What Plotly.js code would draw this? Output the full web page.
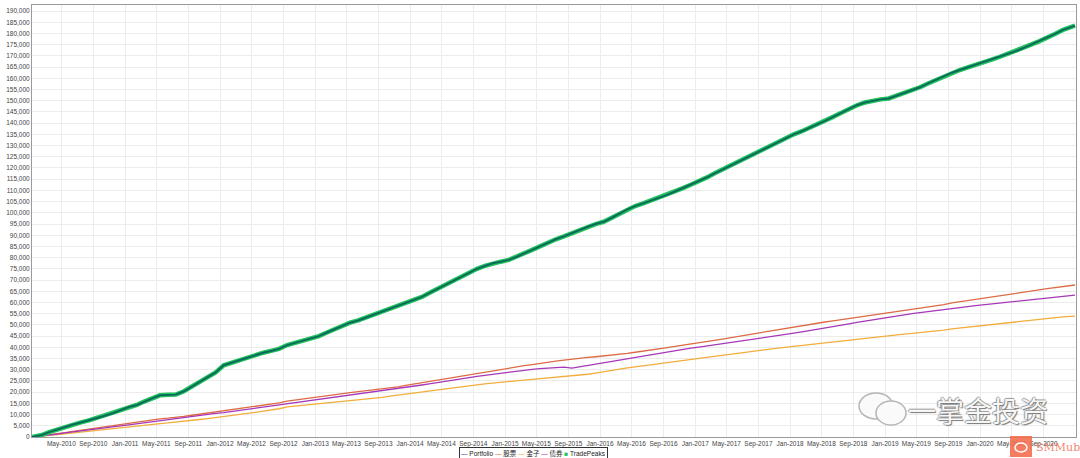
<!DOCTYPE html>
<html>
<head>
<meta charset="utf-8">
<script src="https://cdn.plot.ly/plotly-3.0.1.min.js"></script>
<style>html,body{margin:0;padding:0;background:#fff;}#chart{width:1080px;height:458px;}</style>
</head>
<body>
<div id="chart"></div>
<script>
// ---- Data (monthly from Jan-2010 to Dec-2020) ----
const seriesNames = ["Portfolio", "股票", "金子", "债券", "TradePeaks"];

const portfolio = [
  0, 900, 2200, 3400, 4500, 5600, 6500, 7400, 8600, 9500, 10600, 12000,
  13400, 14300, 15800, 17200, 18600, 18800, 18900, 20400, 22500, 24500, 26500, 28800,
  32000, 33200, 34000, 35500, 36500, 37600, 38400, 39300, 41000, 42000, 42800, 43800,
  45000, 46600, 48000, 49500, 51000, 52000, 53300, 54500, 56000, 57000, 58400, 59600,
  61000, 62500, 64200, 66000, 68000, 69800, 71500, 73200, 75000, 76300, 77500, 78200,
  79000, 80400, 82000, 83500, 85000, 86800, 88200, 89500, 91000, 92300, 93800, 95000,
  96000, 97800, 99700, 101500, 103000, 104200, 105500, 106700, 108000, 109500, 111000, 112500,
  114000, 115800, 117500, 119300, 121000, 122800, 124500, 126300, 128000, 129800, 131500, 133300,
  135000, 136400, 137800, 139400, 141000, 142800, 144500, 146300, 148000, 149200, 150000, 150600,
  151000, 152200, 153400, 154700, 156000, 157700, 159300, 161000, 162500, 163700, 164900, 165900,
  167000, 168300, 169500, 170800, 172000, 173500, 175000, 176500, 178000, 179800, 181600, 183500
];

const stocks = [
  0, 500, 1000, 1500, 2000, 2500, 3000, 3500, 4000, 4600, 5100, 5700,
  6200, 6700, 7100, 7600, 8100, 8400, 8700, 9200, 9700, 10200, 10600, 11000,
  11500, 12100, 12600, 13200, 13700, 14100, 14600, 15200, 16000, 16500, 17000, 17500,
  18000, 18500, 19000, 19400, 19800, 20200, 20600, 21000, 21400, 21900, 22400, 23000,
  23600, 24200, 24800, 25400, 26000, 26700, 27300, 27900, 28500, 29100, 29700, 30300,
  30900, 31300, 31800, 32300, 32700, 33200, 33800, 34300, 34800, 35200, 35500, 35800,
  36100, 36400, 36800, 37300, 37800, 38400, 38900, 39400, 39900, 40400, 40900, 41400,
  41900, 42500, 43100, 43700, 44300, 44900, 45500, 46100, 46700, 47300, 47900, 48500,
  49000, 49600, 50200, 50800, 51300, 51800, 52300, 52800, 53300, 53800, 54300, 54800,
  55200, 55700, 56200, 56700, 57200, 57800, 58400, 59000, 59800, 60300, 60800, 61300,
  61800, 62300, 62800, 63400, 64000, 64500, 65000, 65600, 66200, 66700, 67300, 67800
];

const gold = [
  0, 300, 700, 1100, 1500, 1900, 2300, 2700, 3100, 3500, 3800, 4100,
  4500, 4900, 5300, 5700, 6000, 6300, 6600, 7000, 7400, 7800, 8200, 8600,
  9000, 9500, 10000, 10500, 11000, 11500, 12000, 12600, 13400, 13800, 14200, 14600,
  15000, 15300, 15600, 15900, 16200, 16500, 16900, 17300, 17700, 18200, 18700, 19100,
  19600, 20000, 20400, 20800, 21300, 21800, 22300, 22800, 23300, 23700, 24100, 24500,
  24800, 25100, 25400, 25700, 26000, 26300, 26600, 26800, 27200, 27600, 28000, 28500,
  29000, 29600, 30200, 30800, 31300, 31800, 32300, 32800, 33300, 33800, 34300, 34800,
  35200, 35600, 36000, 36400, 36900, 37400, 37900, 38400, 38800, 39200, 39600, 40000,
  40300, 40700, 41100, 41600, 42100, 42500, 42900, 43300, 43700, 44100, 44500, 45000,
  45300, 45600, 45900, 46200, 46500, 46800, 47200, 47700, 48200, 48600, 49000, 49400,
  49800, 50200, 50600, 51000, 51400, 51800, 52200, 52600, 53000, 53300, 53600, 53900
];

const bonds = [
  0, 400, 900, 1300, 1800, 2300, 2700, 3200, 3700, 4100, 4600, 5000,
  5400, 5900, 6400, 6900, 7300, 7700, 8200, 8700, 9200, 9700, 10100, 10500,
  10900, 11400, 11800, 12300, 12800, 13200, 13600, 14100, 14700, 15200, 15700, 16200,
  16700, 17200, 17700, 18200, 18700, 19100, 19500, 19900, 20400, 20900, 21400, 22000,
  22700, 23200, 23700, 24200, 24700, 25200, 25800, 26400, 27000, 27500, 28000, 28500,
  29000, 29400, 29800, 30200, 30500, 30800, 31000, 31200, 30700, 31300, 31900, 32500,
  33100, 33700, 34300, 34900, 35500, 36000, 36600, 37200, 37800, 38400, 39000, 39600,
  40100, 40600, 41100, 41600, 42100, 42600, 43100, 43600, 44100, 44600, 45100, 45700,
  46300, 46900, 47500, 48100, 48700, 49300, 49900, 50500, 51100, 51700, 52300, 52900,
  53500, 54000, 54500, 55000, 55500, 56000, 56500, 57000, 57400, 57800, 58200, 58600,
  59000, 59400, 59800, 60200, 60600, 61000, 61400, 61800, 62200, 62500, 62900, 63300
];

// month dates: one per month, Jan-2010 .. Dec-2020
const months = [];
for (let y = 2010; y <= 2020; y++) {
  for (let m = 1; m <= 12; m++) months.push(y + "-" + String(m).padStart(2, "0") + "-15");
}
months[0] = "2010-01-08";
months[months.length - 1] = "2020-12-31";

// ---- Styles ----
const colors = {
  portfolio: "#3b3bb0",
  stocks: "#dc6a45",
  gold: "#f2ad3c",
  bonds: "#a637b8",
  peaksOuter: "#22c25e",
  peaksInner: "#0b6b5a"
};
const FONT = "Liberation Sans, Arial, sans-serif";

const traces = [
  {x: months, y: stocks, name: seriesNames[1], mode: "lines", line: {color: colors.stocks, width: 1.3}},
  {x: months, y: gold, name: seriesNames[2], mode: "lines", line: {color: colors.gold, width: 1.3}},
  {x: months, y: bonds, name: seriesNames[3], mode: "lines", line: {color: colors.bonds, width: 1.3}},
  {x: months, y: portfolio, name: seriesNames[0], mode: "lines", line: {color: colors.portfolio, width: 1.5}},
  {x: months, y: portfolio, name: seriesNames[4], mode: "lines", line: {color: colors.peaksOuter, width: 4.5}},
  {x: months, y: portfolio, name: seriesNames[4] + " core", mode: "lines", line: {color: colors.peaksInner, width: 2}, hoverinfo: "skip"}
];

function px2x(px) { return (px - 32) / 1044; }
function px2y(py) { return (437 - py) / 432; }

const legendText =
  '<span style="color:' + colors.portfolio + '">—</span> ' + seriesNames[0] + ' ' +
  '<span style="color:' + colors.stocks + '">—</span> ' + seriesNames[1] + ' ' +
  '<span style="color:' + colors.gold + '">—</span> ' + seriesNames[2] + ' ' +
  '<span style="color:' + colors.bonds + '">—</span> ' + seriesNames[3] + ' ' +
  '<span style="color:' + colors.peaksOuter + '">■</span> ' + seriesNames[4];

const layout = {
  width: 1080, height: 458,
  margin: {l: 32, r: 4, t: 5, b: 21},
  paper_bgcolor: "#fff", plot_bgcolor: "#fff",
  showlegend: false,
  font: {family: FONT, size: 7, color: "#444"},
  xaxis: {
    type: "date",
    range: ["2010-01-08", "2021-01-04"],
    tick0: "2010-01-01", dtick: "M4", tickformat: "%b-%Y",
    tickangle: 0,
    showgrid: true, gridcolor: "#ececec", gridwidth: 1,
    showline: true, linecolor: "#9a9a9a", linewidth: 1, mirror: true,
    zeroline: false, ticks: "",
    tickfont: {family: FONT, size: 6.5, color: "#444"}
  },
  yaxis: {
    range: [0, 192700], dtick: 5000, tick0: 0, tickformat: ",d",
    showgrid: true, gridcolor: "#ececec", gridwidth: 1,
    showline: true, linecolor: "#9a9a9a", linewidth: 1, mirror: true,
    zeroline: false, ticks: "",
    tickfont: {family: FONT, size: 6.5, color: "#444"}
  },
  annotations: [
    {
      xref: "paper", yref: "paper", x: px2x(533), y: px2y(453),
      xanchor: "center", yanchor: "middle", showarrow: false,
      text: legendText, font: {family: "Liberation Sans, Noto Sans CJK SC, sans-serif", size: 6.5, color: "#222"},
      bordercolor: "#333", borderwidth: 1, borderpad: 1, bgcolor: "#fff"
    },
    {
      xref: "paper", yref: "paper", x: px2x(978), y: px2y(410),
      xanchor: "center", yanchor: "middle", showarrow: false,
      text: "一掌金投资",
      font: {family: "Noto Sans CJK SC", size: 28, color: "#f7f7f7", shadow: "1px 1px 1px #777, -1px 0 1px #999, 0 -1px 1px #999"}
    },
    {
      xref: "paper", yref: "paper", x: px2x(1034), y: px2y(447),
      xanchor: "left", yanchor: "middle", showarrow: false,
      text: "SMMub",
      font: {family: "DejaVu Serif, serif", size: 11, color: "rgba(240,110,80,0.85)"}
    }
  ],
  shapes: [
    // WeChat-style watermark bubbles
    {type: "circle", xref: "paper", yref: "paper", x0: px2x(859), x1: px2x(893), y0: px2y(419), y1: px2y(393),
      line: {color: "#b5b5b5", width: 1.5}, fillcolor: "#fafafa"},
    {type: "circle", xref: "paper", yref: "paper", x0: px2x(876), x1: px2x(906), y0: px2y(425), y1: px2y(401),
      line: {color: "#b5b5b5", width: 1.5}, fillcolor: "#fafafa"},
    // orange logo block
    {type: "rect", xref: "paper", yref: "paper", x0: px2x(1010), x1: px2x(1032), y0: px2y(457), y1: px2y(436),
      line: {width: 0}, fillcolor: "rgba(242,110,80,0.9)"},
    {type: "circle", xref: "paper", yref: "paper", x0: px2x(1015), x1: px2x(1027), y0: px2y(452), y1: px2y(443),
      line: {color: "#fff", width: 1.5}, fillcolor: "rgba(0,0,0,0)"}
  ]
};

Plotly.newPlot("chart", traces, layout, {displayModeBar: false, staticPlot: true});
</script>
</body>
</html>
